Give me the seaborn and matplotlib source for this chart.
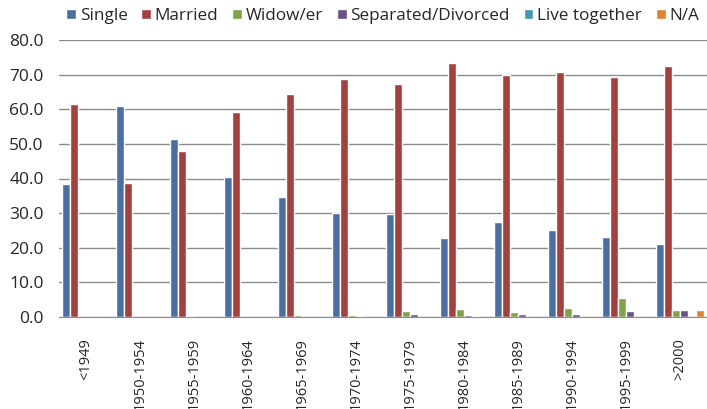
import pandas as pd
import numpy as np
import matplotlib.pyplot as plt
import seaborn as sns

# Birth cohorts and marital status shares (%)
periods = ["<1949", "1950-1954", "1955-1959", "1960-1964", "1965-1969", "1970-1974",
           "1975-1979", "1980-1984", "1985-1989", "1990-1994", "1995-1999", ">2000"]
statuses = ["Single", "Married", "Widow/er", "Separated/Divorced", "Live together", "N/A"]

single = [38.4, 60.9, 51.4, 40.5, 34.8, 30.0, 29.8, 22.7, 27.4, 25.1, 23.0, 21.2]
married = [61.5, 38.8, 48.0, 59.3, 64.5, 68.7, 67.3, 73.5, 70.0, 70.9, 69.3, 72.4]
widow = [0.0, 0.0, 0.4, 0.0, 0.6, 0.5, 1.8, 2.3, 1.3, 2.7, 5.6, 2.0]
separated = [0.0, 0.0, 0.0, 0.0, 0.0, 0.3, 0.9, 0.6, 0.8, 0.8, 1.8, 2.0]
together = [0.0, 0.0, 0.0, 0.0, 0.0, 0.0, 0.0, 0.4, 0.0, 0.0, 0.0, 0.0]
not_avail = [0.0, 0.0, 0.0, 0.0, 0.0, 0.0, 0.0, 0.0, 0.0, 0.0, 0.0, 2.1]

colors = ["#4A6FA5", "#A6403F", "#80A34A", "#6A5289", "#4198B0", "#E0822F"]

wide = pd.DataFrame({"Period": periods, "Single": single, "Married": married,
                     "Widow/er": widow, "Separated/Divorced": separated,
                     "Live together": together, "N/A": not_avail})
df = wide.melt(id_vars="Period", var_name="Status", value_name="Percent")

sns.set_style("white")
plt.rcParams['font.family'] = ['Open Sans', 'DejaVu Sans']

fig = plt.figure(figsize=(7.07, 4.09), dpi=100)
ax = fig.add_axes([59 / 707, 1 - 317 / 409, 1 - 59 / 707, (317 - 40) / 409])

sns.barplot(data=df, x="Period", y="Percent", hue="Status", hue_order=statuses,
            order=periods, palette=colors, width=0.89, saturation=1, ax=ax)

ax.set_ylim(0, 80)
ax.set_xlim(-0.5, len(periods) - 0.5)
ax.set_yticks(np.arange(0, 81, 10))
ax.set_yticklabels([f"{v:.1f}" for v in np.arange(0, 81, 10)], fontsize=12.5)
ax.yaxis.grid(True, color="#8C8C8C", linewidth=1)
ax.set_axisbelow(True)
ax.set_xlabel("")
ax.set_ylabel("")

ax.set_xticks(range(len(periods)))
ax.set_xticklabels(periods, rotation=90, fontsize=10.5, va="top")
ax.set_xticks(np.arange(-0.5, len(periods), 1), minor=True)
ax.tick_params(axis="x", which="major", length=0, pad=15)
ax.tick_params(axis="x", which="minor", length=5, color="#8C8C8C", width=1)
ax.tick_params(axis="y", length=0, pad=11)

for side in ["left", "right", "top"]:
    ax.spines[side].set_visible(False)
ax.spines["bottom"].set_color("#8C8C8C")

handles, labels = ax.get_legend_handles_labels()
ax.get_legend().remove()
fig.legend(handles, labels, loc="center left", bbox_to_anchor=(66 / 707, 1 - 16 / 409),
           ncol=6, frameon=False, fontsize=12.3, handlelength=0.57, handleheight=0.57,
           handletextpad=0.23, columnspacing=0.8, borderpad=0, borderaxespad=0)

fig.savefig("out.png", dpi=100)
